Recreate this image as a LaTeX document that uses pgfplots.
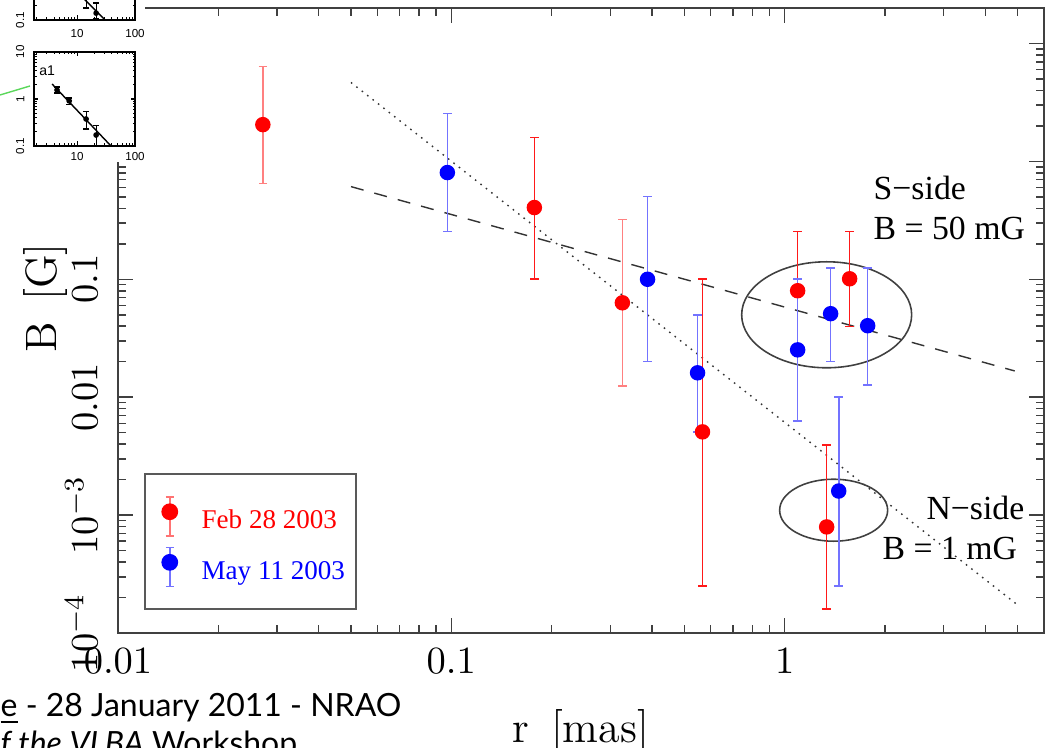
\documentclass[border=0pt]{standalone}
\usepackage{fontspec}
\usepackage{pgfplots}
\usepackage{pgfplotstable}
\pgfplotsset{compat=1.18}
\newfontfamily\timesfont{Liberation Serif}
\newfontfamily\insetfont{Liberation Sans}
\newfontfamily\slidefont{Lato}

% Feb 28 2003 (points with light error bars)
\pgfplotstableread{
x y lo hi
0.0272 2.05 0.647 6.38
0.326 0.0632 0.0125 0.321
}\redlight
% Feb 28 2003 (points with dark error bars)
\pgfplotstableread{
x y lo hi
0.1775 0.406 0.101 1.59
0.567 0.00508 0.00025 0.101
1.094 0.080 0.0252 0.254
1.567 0.101 0.0397 0.254
1.337 0.000794 0.00016 0.00394
}\reddark
% May 11 2003
\pgfplotstableread{
x y lo hi
0.0973 0.804 0.254 2.55
0.388 0.100 0.0200 0.502
0.548 0.0161 0.00508 0.050
1.094 0.0252 0.0063 0.100
1.374 0.0511 0.0200 0.125
1.775 0.0404 0.0127 0.125
1.453 0.0016 0.00025 0.010
}\blueset
% inset a1
\pgfplotstableread{
x y lo hi
4.5 1.55 1.34 1.8
7.3 0.91 0.78 1.05
14.3 0.375 0.23 0.53
21.3 0.171 0.1 0.267
}\insetA
% upper inset
\pgfplotstableread{
x y lo hi
14.3 0.34 0.18 0.6
21.3 0.14 0.105 0.23
}\insetB

\begin{document}
\begin{tikzpicture}
\useasboundingbox (0,0) rectangle (10.5,7.48);
\begin{scope}
\clip (0,0) rectangle (10.5,7.48);
\begin{axis}[
  at={(1.18cm,1.15cm)}, anchor=south west,
  scale only axis, width=9.26cm, height=6.25cm,
  xmode=log, ymode=log,
  xmin=0.01, xmax=6, ymin=1e-4, ymax=20,
  xtick={0.01,0.1,1}, xticklabels={$0.01$,$0.1$,$1$},
  ytick={1e-4,1e-3,0.01,0.1,1,10},
  yticklabels={$10^{-4}$,$10^{-3}$,$0.01$,$0.1$,{},{}},
  minor xtick={0.02,0.03,0.04,0.05,0.06,0.07,0.08,0.09,0.2,0.3,0.4,0.5,0.6,0.7,0.8,0.9,2,3,4,5},
  minor ytick={2e-4,3e-4,4e-4,5e-4,6e-4,7e-4,8e-4,9e-4,2e-3,3e-3,4e-3,5e-3,6e-3,7e-3,8e-3,9e-3,0.02,0.03,0.04,0.05,0.06,0.07,0.08,0.09,0.2,0.3,0.4,0.5,0.6,0.7,0.8,0.9,2,3,4,5,6,7,8,9},
  tick align=inside,
  major tick length=0.15cm, minor tick length=0.08cm,
  every tick/.append style={black!75, line width=0.45pt},
  axis line style={black!75, line width=0.5pt},
  tick label style={font=\fontsize{11}{13}\selectfont},
  xticklabel style={inner ysep=0.15cm},
  yticklabel style={rotate=90, anchor=south, inner ysep=0.2cm},
  xlabel={r\ \,[mas]}, ylabel={B\ \,[G]},
  label style={font=\fontsize{12.5}{15}\selectfont},
  xlabel style={at={(axis description cs:0.5,0)}, anchor=base, yshift=-1.09cm, inner sep=0pt},
  ylabel style={at={(axis description cs:-0.0659,0.536)}, anchor=base, inner sep=0pt},
  legend cell align=left,
  legend style={at={(axis description cs:0.0281,0.0368)}, anchor=south west,
    draw=black!65, line width=0.5pt, fill=white,
    inner xsep=0.11cm, inner ysep=0.22cm, row sep=0.1cm, column sep=0.235cm,
    font=\timesfont\fontsize{7.7}{9}\selectfont,
    nodes={inner xsep=0pt, inner ysep=0pt, text depth=0pt, text height=0.68em}},
]
\addplot[forget plot, black!80, line width=0.4pt, dash pattern=on 0.45pt off 1.5pt] coordinates {(0.05,4.67) (5,1.73e-4)};
\addplot[forget plot, black!80, line width=0.4pt, dash pattern=on 3.7pt off 3.2pt] coordinates {(0.05,0.611) (4.9,0.0167)};
\draw[black!75, line width=0.45pt] (axis cs:1.337,0.05) ellipse [x radius=0.85cm, y radius=0.53cm];
\draw[black!75, line width=0.45pt] (axis cs:1.403,0.0011) ellipse [x radius=0.54cm, y radius=0.31cm];

\addplot[red, only marks, mark=*, mark size=2.0pt, mark options={solid, fill=red, draw=red},
  legend image code/.code={
    \path (0cm,0cm);
    \draw[red!55, line width=0.45pt] (0.13cm,0.2cm) -- (0.13cm,-0.19cm)
      (0.09cm,0.2cm) -- (0.17cm,0.2cm) (0.09cm,-0.19cm) -- (0.17cm,-0.19cm);
    \fill[red] (0.13cm,0.05cm) circle (0.075cm);},
  error bars/.cd, y dir=both, y explicit,
  error bar style={red!50, line width=0.45pt},
  error mark options={rotate=90, red!50, mark size=1.2pt, line width=0.45pt}]
  table[x=x, y=y, y error plus expr=\thisrow{hi}-\thisrow{y}, y error minus expr=\thisrow{y}-\thisrow{lo}] {\redlight};
\addlegendentry{\textcolor{red}{Feb 28 2003}}
\addplot[forget plot, red, only marks, mark=*, mark size=2.0pt, mark options={solid, fill=red, draw=red},
  error bars/.cd, y dir=both, y explicit,
  error bar style={red!90, line width=0.45pt},
  error mark options={rotate=90, red!90, mark size=1.2pt, line width=0.45pt}]
  table[x=x, y=y, y error plus expr=\thisrow{hi}-\thisrow{y}, y error minus expr=\thisrow{y}-\thisrow{lo}] {\reddark};
\addplot[blue, only marks, mark=*, mark size=2.0pt, mark options={solid, fill=blue, draw=blue},
  legend image code/.code={
    \path (0cm,0cm);
    \draw[blue!55, line width=0.45pt] (0.13cm,0.2cm) -- (0.13cm,-0.19cm)
      (0.09cm,0.2cm) -- (0.17cm,0.2cm) (0.09cm,-0.19cm) -- (0.17cm,-0.19cm);
    \fill[blue] (0.13cm,0.05cm) circle (0.075cm);},
  error bars/.cd, y dir=both, y explicit,
  error bar style={blue!55, line width=0.45pt},
  error mark options={rotate=90, blue!55, mark size=1.2pt, line width=0.45pt}]
  table[x=x, y=y, y error plus expr=\thisrow{hi}-\thisrow{y}, y error minus expr=\thisrow{y}-\thisrow{lo}] {\blueset};
\addlegendentry{\textcolor{blue}{May 11 2003}}
\end{axis}

% annotations
\node[anchor=base west, inner sep=0pt, font=\timesfont\fontsize{9.6}{11}\selectfont] at (8.73,5.48) {S−side};
\node[anchor=base west, inner sep=0pt, font=\timesfont\fontsize{9.6}{11}\selectfont] at (8.73,5.08) {B = 50 mG};
\node[anchor=base east, inner sep=0pt, font=\timesfont\fontsize{9.6}{11}\selectfont] at (10.25,2.28) {N−side};
\node[anchor=base west, inner sep=0pt, font=\timesfont\fontsize{9.6}{11}\selectfont] at (8.82,1.88) {B = 1 mG};

% slide overlay: insets
\fill[white] (0,5.86) rectangle (1.45,7.48);
\begin{axis}[at={(0.34cm,6.02cm)},
  anchor=south west, scale only axis, width=1.01cm, height=0.94cm,
  xmode=log, ymode=log, xmin=1.8, xmax=100, ymin=0.1, ymax=10,
  xtick={10,100}, xticklabels={10,100},
  ytick={0.1,1,10}, yticklabels={0.1,1,10},
  minor xtick={2,3,4,5,6,7,8,9,20,30,40,50,60,70,80,90},
  minor ytick={0.2,0.3,0.4,0.5,0.6,0.7,0.8,0.9,2,3,4,5,6,7,8,9},
  tick align=inside, major tick length=0.045cm, minor tick length=0.025cm,
  every tick/.append style={black, line width=0.3pt},
  axis line style={black, line width=0.4pt},
  tick label style={font=\insetfont\fontsize{3.3}{4}\selectfont},
  xticklabel style={inner ysep=0.06cm},
  yticklabel style={rotate=90, anchor=south, inner ysep=0.09cm}]
\addplot[black, line width=0.4pt] coordinates {(3.7,2.08) (38.5,0.1)};
\addplot[only marks, mark=*, mark size=0.6pt, black,
  error bars/.cd, y dir=both, y explicit,
  error bar style={black, line width=0.3pt},
  error mark options={rotate=90, black, mark size=0.9pt, line width=0.3pt}]
  table[x=x, y=y, y error plus expr=\thisrow{hi}-\thisrow{y}, y error minus expr=\thisrow{y}-\thisrow{lo}] {\insetA};
\node[font=\insetfont\fontsize{4}{5}\selectfont] at (axis description cs:0.13,0.8) {a1};
\end{axis}
\begin{axis}[at={(0.34cm,7.28cm)},
  anchor=south west, scale only axis, width=1.01cm, height=0.94cm,
  xmode=log, ymode=log, xmin=1.8, xmax=100, ymin=0.1, ymax=10,
  xtick={10,100}, xticklabels={10,100},
  ytick={0.1,1,10}, yticklabels={0.1,1,10},
  minor xtick={2,3,4,5,6,7,8,9,20,30,40,50,60,70,80,90},
  minor ytick={0.2,0.3,0.4,0.5,0.6,0.7,0.8,0.9,2,3,4,5,6,7,8,9},
  tick align=inside, major tick length=0.045cm, minor tick length=0.025cm,
  every tick/.append style={black, line width=0.3pt},
  axis line style={black, line width=0.4pt},
  tick label style={font=\insetfont\fontsize{3.3}{4}\selectfont},
  xticklabel style={inner ysep=0.09cm},
  yticklabel style={rotate=90, anchor=south, inner ysep=0.09cm}]
\addplot[black, line width=0.4pt] coordinates {(8,0.52) (30.4,0.1)};
\addplot[only marks, mark=*, mark size=0.6pt, black,
  error bars/.cd, y dir=both, y explicit,
  error bar style={black, line width=0.3pt},
  error mark options={rotate=90, black, mark size=0.9pt, line width=0.3pt}]
  table[x=x, y=y, y error plus expr=\thisrow{hi}-\thisrow{y}, y error minus expr=\thisrow{y}-\thisrow{lo}] {\insetB};
\end{axis}
\draw[color={rgb,255:red,90;green,215;blue,90}, line width=0.4pt] (0,6.53) -- (0.30,6.62);

% slide overlay: footer text
\node[anchor=base west, inner sep=0pt, font=\slidefont\fontsize{9.1}{11}\selectfont] at (0,0.31) {\underline{e} - 28 January 2011 - NRAO};
\node[anchor=base west, inner sep=0pt, font=\slidefont\fontsize{9.1}{11}\selectfont] at (0,-0.07) {\textit{f the VLBA} Workshop};
\end{scope}
\end{tikzpicture}
\end{document}
